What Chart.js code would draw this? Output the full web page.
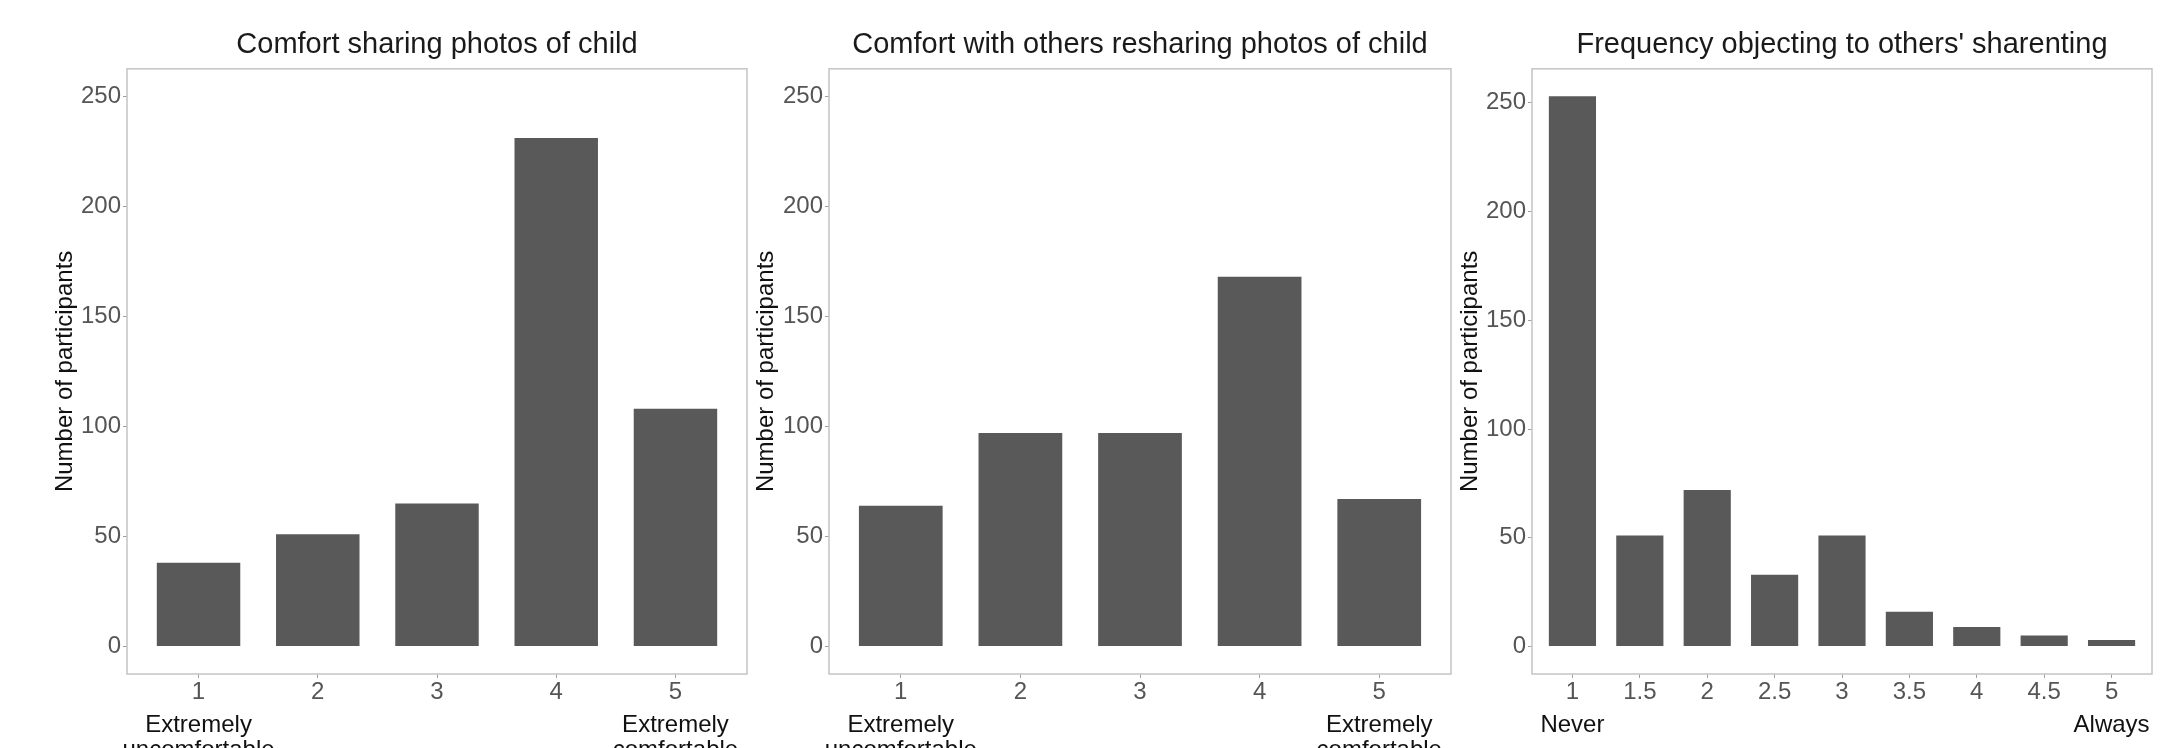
<!DOCTYPE html>
<html>
<head>
<meta charset="utf-8">
<script src="https://cdn.jsdelivr.net/npm/chart.js@4.4.1/dist/chart.umd.min.js"></script>
<style>
  html, body { margin: 0; padding: 0; background: #fff; overflow: hidden; width: 2174px; height: 748px; }
  canvas { position: absolute; top: 0; }
</style>
</head>
<body>
<canvas id="c1" width="752" height="800" style="left:0px"></canvas>
<canvas id="c2" width="704" height="800" style="left:752px"></canvas>
<canvas id="c3" width="718" height="800" style="left:1456px"></canvas>
<script>
// ---- data
var panelTitles = [
  "Comfort sharing photos of child",
  "Comfort with others resharing photos of child",
  "Frequency objecting to others' sharenting"
];
var ratingLevels = [1, 2, 3, 4, 5];
var comfortSharing = [38, 51, 65, 231, 108];
var comfortResharing = [64, 97, 97, 168, 67];

var objectLevels = [1, 1.5, 2, 2.5, 3, 3.5, 4, 4.5, 5];
var objectingCounts = [253, 51, 72, 33, 51, 16, 9, 5, 3];

var yTicks = [0, 50, 100, 150, 200, 250];
var yTitle = "Number of participants";
var comfortEnds = [["Extremely", "uncomfortable"], ["Extremely", "comfortable"]];
var frequencyEnds = ["Never", "Always"];

var FONT = '"Liberation Sans", Arial, Helvetica, sans-serif';
var BAR_COLOR = '#595959';

// grey box round the plot area (ggplot panel border)
var panelBorder = {
  id: 'panelBorder',
  afterDatasetsDraw: function (chart) {
    var a = chart.chartArea;
    var ctx = chart.ctx;
    ctx.save();
    ctx.strokeStyle = '#c4c4c4';
    ctx.lineWidth = 1.5;
    ctx.strokeRect(a.left, a.top, a.right - a.left, a.bottom - a.top);
    ctx.restore();
  }
};

function buildPanel(cfg) {
  var points = cfg.levels.map(function (x, i) {
    return { x: x, y: cfg.counts[i] };
  });
  var first = cfg.levels[0];
  var last = cfg.levels[cfg.levels.length - 1];

  new Chart(document.getElementById(cfg.id), {
    type: 'bar',
    data: {
      datasets: [{
        data: points,
        xAxisID: 'x',
        yAxisID: 'y',
        backgroundColor: BAR_COLOR,
        borderWidth: 0,
        barPercentage: 0.7,
        categoryPercentage: 1
      }]
    },
    options: {
      responsive: false,
      animation: false,
      devicePixelRatio: 1,
      layout: { padding: { left: cfg.padLeft, right: cfg.padRight, top: 0, bottom: 0 } },
      plugins: {
        legend: { display: false },
        tooltip: { enabled: false },
        title: {
          display: true,
          text: cfg.title,
          fullSize: false,
          color: '#1a1a1a',
          font: { family: FONT, size: 29, weight: 'normal' },
          padding: { top: 28, bottom: 6 }
        }
      },
      scales: {
        x: {
          type: 'linear',
          position: 'bottom',
          min: cfg.xMin,
          max: cfg.xMax,
          offset: false,
          weight: 0,
          afterBuildTicks: function (s) {
            s.ticks = cfg.levels.map(function (v) { return { value: v }; });
          },
          afterFit: function (s) { s.height = 39; },
          grid: { display: true, offset: false, drawOnChartArea: false, drawTicks: true, tickLength: 4, tickColor: '#a0a0a0', tickWidth: 1 },
          border: { display: false },
          ticks: {
            color: '#555555',
            font: { family: FONT, size: 24 },
            padding: 0,
            autoSkip: false,
            maxRotation: 0,
            callback: function (v) { return String(v); }
          }
        },
        x2: {
          type: 'linear',
          position: 'bottom',
          min: cfg.xMin,
          max: cfg.xMax,
          offset: false,
          weight: 1,
          afterBuildTicks: function (s) {
            s.ticks = [{ value: first }, { value: last }];
          },
          afterFit: function (s) { s.height = 87; },
          grid: { display: false, drawTicks: false },
          border: { display: false },
          ticks: {
            color: '#111111',
            font: { family: FONT, size: 24, lineHeight: 1.05 },
            padding: 0,
            autoSkip: false,
            maxRotation: 0,
            callback: function (v, i) { return cfg.ends[i]; }
          }
        },
        y: {
          type: 'linear',
          min: cfg.yMin,
          max: cfg.yMax,
          afterBuildTicks: function (s) {
            s.ticks = yTicks.map(function (v) { return { value: v }; });
          },
          afterFit: function (s) { s.width = cfg.yWidth; },
          grid: { display: true, drawOnChartArea: false, drawTicks: true, tickLength: 4, tickColor: '#a0a0a0', tickWidth: 1 },
          border: { display: false },
          ticks: {
            color: '#555555',
            font: { family: FONT, size: 24 },
            padding: 2
          },
          title: {
            display: true,
            text: yTitle,
            color: '#111111',
            font: { family: FONT, size: 24 },
            padding: 0
          }
        }
      }
    },
    plugins: [panelBorder]
  });
}

buildPanel({
  id: 'c1', title: panelTitles[0], levels: ratingLevels, counts: comfortSharing,
  ends: comfortEnds, xMin: 0.4, xMax: 5.6, yMin: -12.5, yMax: 262.5,
  padLeft: 51, padRight: 5, yWidth: 76
});
buildPanel({
  id: 'c2', title: panelTitles[1], levels: ratingLevels, counts: comfortResharing,
  ends: comfortEnds, xMin: 0.4, xMax: 5.6, yMin: -12.5, yMax: 262.5,
  padLeft: 0, padRight: 5, yWidth: 77
});
buildPanel({
  id: 'c3', title: panelTitles[2], levels: objectLevels, counts: objectingCounts,
  ends: frequencyEnds, xMin: 0.7, xMax: 5.3, yMin: -12.65, yMax: 265.65,
  padLeft: 0, padRight: 22, yWidth: 76
});
</script>
</body>
</html>
